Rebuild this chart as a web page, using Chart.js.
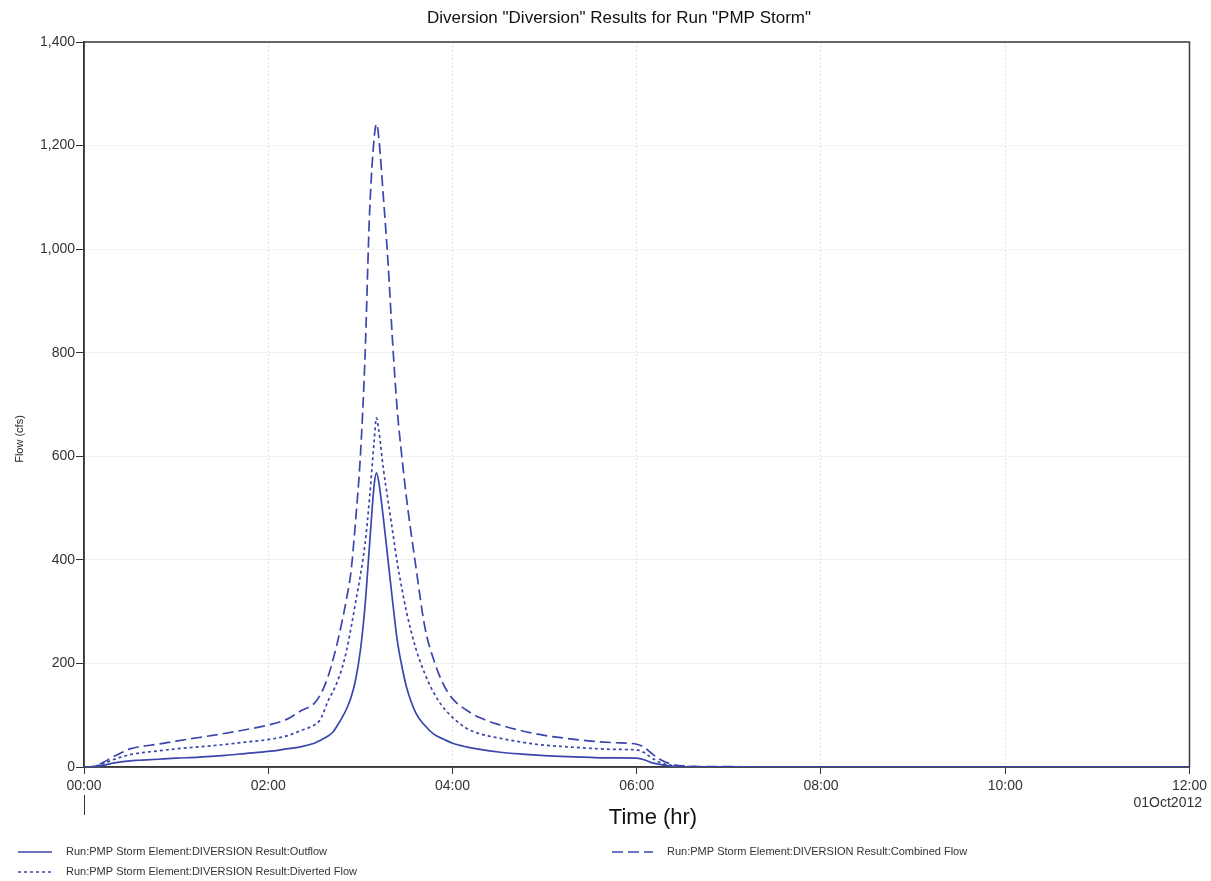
<!DOCTYPE html>
<html>
<head>
<meta charset="utf-8">
<script src="https://cdn.jsdelivr.net/npm/chart.js@4.4.1/dist/chart.umd.min.js"></script>
<style>
html,body{margin:0;padding:0;background:#fff;}
canvas{display:block;}
</style>
</head>
<body>
<canvas id="c" width="1211" height="881"></canvas>
<script>
// Time in hours after 00:00, 01Oct2012
const times = [0, 0.1, 0.2, 0.3, 0.4, 0.5, 0.6, 0.8, 1.0, 1.25, 1.5, 1.75, 2.0, 2.2, 2.35, 2.5, 2.55, 2.6, 2.65, 2.7, 2.75, 2.8, 2.85, 2.9, 2.95, 3.0, 3.05, 3.1, 3.15, 3.175, 3.2, 3.25, 3.3, 3.35, 3.4, 3.45, 3.5, 3.6, 3.7, 3.8, 3.9, 4.0, 4.15, 4.3, 4.5, 4.75, 5.0, 5.25, 5.5, 5.75, 6.0, 6.08, 6.15, 6.25, 6.35, 6.5, 6.75, 7.0, 7.25, 8, 9, 10, 11, 12];

const outflow = [0, 0.5, 3, 7, 10, 12, 13, 15, 17, 19, 22, 26, 30, 35, 39, 46, 50, 55, 60, 67, 80, 95, 112, 135, 170, 225, 310, 430, 545, 568, 550, 480, 400, 320, 245, 195, 155, 105, 80, 63, 54, 46, 39, 34, 29, 25, 22, 20, 18.5, 17.5, 17, 14, 9, 5, 2, 0.5, 0, 0, 0, 0, 0, 0, 0, 0];

const diverted = [0, 1, 6, 13, 19, 24, 27, 31, 35, 39, 43, 48, 53, 60, 70, 81, 88, 105, 128, 145, 165, 190, 225, 270, 320, 370, 430, 520, 630, 674, 650, 575, 515, 455, 395, 345, 300, 230, 180, 142, 115, 96, 75, 64, 56, 48, 42, 39, 36, 34, 33, 28, 19, 9, 4, 1, 0.5, 0.5, 0, 0, 0, 0, 0, 0];

const combined = [0, 1, 8, 18, 27, 35, 39, 44, 50, 57, 64, 72, 81, 92, 108, 123, 135, 152, 175, 205, 240, 280, 325, 380, 480, 600, 790, 1070, 1215, 1242, 1215, 1100, 975, 820, 690, 600, 520, 390, 270, 205, 160, 132, 110, 95, 82, 70, 61, 55, 50, 47, 44, 38, 28, 15, 7, 2, 1, 1, 0, 0, 0, 0, 0, 0];

const xTickLabels = ['00:00', '02:00', '04:00', '06:00', '08:00', '10:00', '12:00'];
const seriesLabels = [
  'Run:PMP Storm Element:DIVERSION Result:Outflow',
  'Run:PMP Storm Element:DIVERSION Result:Diverted Flow',
  'Run:PMP Storm Element:DIVERSION Result:Combined Flow'
];
const chartTitle = 'Diversion "Diversion" Results for Run "PMP Storm"';
const yAxisTitle = 'Flow (cfs)';
const xAxisTitle = 'Time (hr)';
const dateLabel = '01Oct2012';

const LINE = '#3b46ad';
const FONT = '"Liberation Sans", Arial, sans-serif';

const extras = {
  id: 'extras',
  beforeDatasetsDraw(chart) {
    const {ctx, chartArea: a} = chart;
    ctx.save();
    ctx.strokeStyle = '#3a3a3a';
    ctx.lineWidth = 1.5;
    ctx.strokeRect(a.left, a.top, a.right - a.left, a.bottom - a.top);
    ctx.restore();
  },
  afterDraw(chart) {
    const {ctx, chartArea: a} = chart;
    ctx.save();
    // y axis title
    ctx.fillStyle = '#222';
    ctx.font = '11px ' + FONT;
    ctx.translate(20, 439);
    ctx.rotate(-Math.PI / 2);
    ctx.textAlign = 'center';
    ctx.textBaseline = 'middle';
    ctx.fillText(yAxisTitle, 0, 0);
    ctx.restore();

    ctx.save();
    ctx.textBaseline = 'middle';
    // chart title
    ctx.fillStyle = '#111';
    ctx.font = '17px ' + FONT;
    ctx.textAlign = 'center';
    ctx.fillText(chartTitle, 619, 18);
    // x axis title
    ctx.font = '22px ' + FONT;
    ctx.fillText(xAxisTitle, 653, 818);
    // date label
    ctx.fillStyle = '#333';
    ctx.font = '14px ' + FONT;
    ctx.textAlign = 'right';
    ctx.fillText(dateLabel, 1202, 803);
    // marker under 00:00
    ctx.strokeStyle = '#333';
    ctx.lineWidth = 1;
    ctx.beginPath();
    ctx.moveTo(a.left + 0.5, 795);
    ctx.lineTo(a.left + 0.5, 815);
    ctx.stroke();

    // legend
    const ds = chart.data.datasets;
    const slots = [
      {i: 0, x: 18, y: 852, len: 34},
      {i: 2, x: 612, y: 852, len: 41},
      {i: 1, x: 18, y: 872, len: 34}
    ];
    ctx.font = '11px ' + FONT;
    ctx.textAlign = 'left';
    slots.forEach(s => {
      const d = ds[s.i];
      ctx.strokeStyle = d.borderColor;
      ctx.lineWidth = 1.5;
      ctx.setLineDash(d.borderDash || []);
      ctx.beginPath();
      ctx.moveTo(s.x, s.y);
      ctx.lineTo(s.x + s.len, s.y);
      ctx.stroke();
      ctx.setLineDash([]);
      ctx.fillStyle = '#333';
      ctx.fillText(d.label, s.x + s.len + 14, s.y);
    });
    ctx.restore();
  }
};

new Chart(document.getElementById('c'), {
  type: 'line',
  data: {
    labels: times,
    datasets: [
      {label: seriesLabels[0], data: outflow, borderColor: LINE, borderWidth: 1.7, borderDash: [], pointRadius: 0, fill: false, cubicInterpolationMode: 'monotone'},
      {label: seriesLabels[1], data: diverted, borderColor: LINE, borderWidth: 1.7, borderDash: [3, 3], pointRadius: 0, fill: false, cubicInterpolationMode: 'monotone'},
      {label: seriesLabels[2], data: combined, borderColor: LINE, borderWidth: 1.7, borderDash: [11, 5], pointRadius: 0, fill: false, cubicInterpolationMode: 'monotone'}
    ]
  },
  options: {
    responsive: false,
    animation: false,
    devicePixelRatio: 1,
    layout: {padding: {left: 0, top: 42, right: 21, bottom: 49}},
    plugins: {
      legend: {display: false},
      tooltip: {enabled: false},
      title: {display: false}
    },
    scales: {
      x: {
        type: 'linear',
        min: 0, max: 12,
        afterFit(s) { s.height = 65; },
        afterBuildTicks(s) { s.ticks = xTickLabels.map((_, i) => ({value: i * 2})); },
        ticks: {
          autoSkip: false, maxRotation: 0,
          color: '#333',
          padding: 4,
          font: {family: FONT, size: 14},
          callback: (v) => xTickLabels[Math.round(v / 2)]
        },
        grid: {color: '#e4e4e4', lineWidth: 1, tickColor: '#333', tickLength: 7, tickBorderDash: []},
        border: {display: true, color: '#333', width: 1.5, dash: [2, 2]}
      },
      y: {
        min: 0, max: 1400,
        afterFit(s) { s.width = 84; },
        ticks: {
          stepSize: 200,
          color: '#333',
          padding: 1,
          font: {family: FONT, size: 14},
          callback: (v) => v.toLocaleString('en-US')
        },
        grid: {color: '#e4e4e4', lineWidth: 1, tickColor: '#333', tickLength: 8, tickBorderDash: []},
        border: {display: true, color: '#333', width: 1.5, dash: [2, 2]}
      }
    }
  },
  plugins: [extras]
});
</script>
</body>
</html>
